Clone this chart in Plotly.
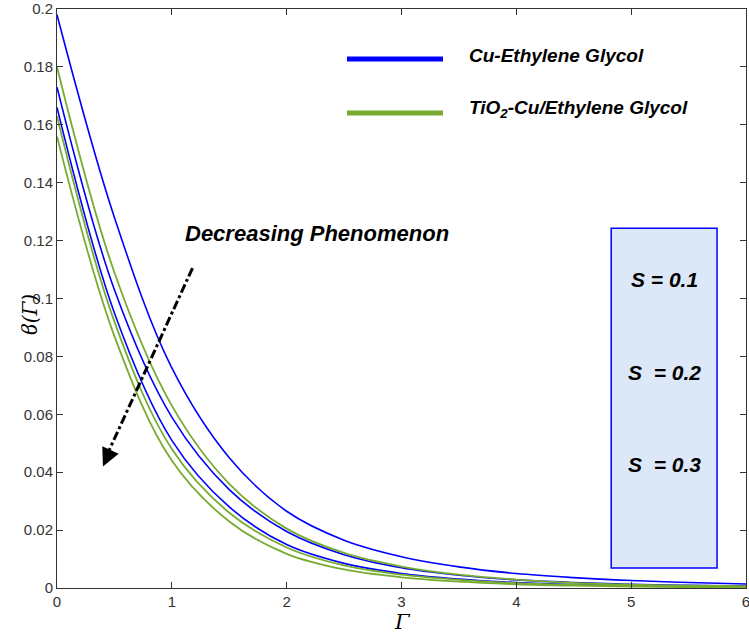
import plotly.graph_objects as go

x_vals = [0, 0.5, 1, 1.5, 2, 2.5, 3, 3.5, 4, 4.5, 5, 5.5, 6]

cu_eg_s1 = [0.198, 0.128, 0.076, 0.045, 0.0265, 0.0165, 0.0108, 0.0073, 0.0050, 0.0036, 0.0026, 0.0019, 0.0014]
cu_eg_s2 = [0.173, 0.103, 0.059, 0.034, 0.0195, 0.0115, 0.0070, 0.0044, 0.0028, 0.0019, 0.0013, 0.0009, 0.0007]
cu_eg_s3 = [0.166, 0.095, 0.051, 0.028, 0.0150, 0.0085, 0.0050, 0.0031, 0.0019, 0.0012, 0.0008, 0.0006, 0.0005]

tio2_s1 = [0.180, 0.109, 0.063, 0.036, 0.0205, 0.0121, 0.0074, 0.0046, 0.0029, 0.0018, 0.0012, 0.0008, 0.0006]
tio2_s2 = [0.163, 0.092, 0.048, 0.026, 0.0140, 0.0078, 0.0046, 0.0028, 0.0017, 0.0011, 0.0007, 0.0005, 0.0004]
tio2_s3 = [0.156, 0.087, 0.044, 0.023, 0.0118, 0.0064, 0.0037, 0.0022, 0.0013, 0.0008, 0.0005, 0.0003, 0.0002]

x_ticks = [0, 1, 2, 3, 4, 5, 6]
y_ticks = [0, 0.02, 0.04, 0.06, 0.08, 0.1, 0.12, 0.14, 0.16, 0.18, 0.2]
y_tick_text = ["0", "0.02", "0.04", "0.06", "0.08", "0.1", "0.12", "0.14", "0.16", "0.18", "0.2"]

legend_names = ["Cu-Ethylene Glycol", "TiO<sub>2</sub>-Cu/Ethylene Glycol"]
s_labels = ["S = 0.1", "S&nbsp; = 0.2", "S&nbsp; = 0.3"]
s_label_y = [0.1064, 0.0743, 0.0425]

BLUE = "#0000ff"
GREEN = "#77ac30"

fig = go.Figure()
for ys in [cu_eg_s1, cu_eg_s2, cu_eg_s3]:
    fig.add_trace(go.Scatter(x=x_vals, y=ys, mode="lines", line=dict(color=BLUE, width=1.6, shape="spline", smoothing=1.0), showlegend=False))
for ys in [tio2_s1, tio2_s2, tio2_s3]:
    fig.add_trace(go.Scatter(x=x_vals, y=ys, mode="lines", line=dict(color=GREEN, width=1.8, shape="spline", smoothing=1.0), showlegend=False))

# S box
fig.add_shape(type="rect", x0=4.826, x1=5.748, y0=0.0069, y1=0.1243, xref="x", yref="y",
              fillcolor="#dce8f8", line=dict(color=BLUE, width=1.5), layer="below")
font_s = dict(family="Arial, Liberation Sans, sans-serif", size=21, color="black")
for txt, yy in zip(s_labels, s_label_y):
    fig.add_annotation(x=5.287, y=yy, text="<b><i>" + txt + "</i></b>", showarrow=False, font=font_s, xref="x", yref="y")

# decreasing arrow
fig.add_trace(go.Scatter(x=[1.18, 0.43], y=[0.1105, 0.0455], mode="lines",
                         line=dict(color="black", width=3, dash="dashdot"), showlegend=False, hoverinfo="skip"))
fig.add_annotation(x=0.40, y=0.042, ax=0.47, ay=0.048, xref="x", yref="y", axref="x", ayref="y",
                   showarrow=True, arrowhead=2, arrowsize=1.2, arrowwidth=3, arrowcolor="black", text=" ")
fig.add_annotation(x=1.096, y=0.1226, text="<b><i>Decreasing Phenomenon</i></b>", showarrow=False,
                   xanchor="left", font=dict(family="Arial, Liberation Sans, sans-serif", size=22, color="black"),
                   xref="x", yref="y")

# custom legend
legend_line_y = [0.9136, 0.8204]
legend_text_y = [0.9205, 0.8273]
font_leg = dict(family="Arial, Liberation Sans, sans-serif", size=19, color="black")
for name, col, ly, ty in zip(legend_names, [BLUE, GREEN], legend_line_y, legend_text_y):
    fig.add_shape(type="line", xref="paper", yref="paper", x0=(347 - 57) / 689, x1=(443 - 57) / 689,
                  y0=ly, y1=ly, line=dict(color=col, width=5))
    fig.add_annotation(xref="paper", yref="paper", x=(467 - 57) / 689, y=ty, text="<b><i>" + name + "</i></b>",
                       showarrow=False, xanchor="left", yanchor="middle", font=font_leg)

# axis titles
fig.add_annotation(xref="paper", yref="paper", x=(402 - 57) / 689, y=(588 - 622) / 579, text="<i>Γ</i>",
                   xanchor="center", yanchor="middle",
                   showarrow=False, font=dict(family="DejaVu Serif, serif", size=21, color="black"))
fig.add_annotation(xref="paper", yref="paper", x=(30 - 57) / 689, y=(588 - 315) / 579, text="<i>ϐ(Γ)</i>",
                   xanchor="center", yanchor="middle",
                   textangle=-90, showarrow=False, font=dict(family="DejaVu Serif, serif", size=20, color="black"))

axis_common = dict(showline=True, linecolor="#333", linewidth=1, mirror="ticks", ticks="inside", ticklen=6,
                   tickcolor="#333", showgrid=False, zeroline=False, automargin=False, ticklabeloverflow="allow",
                   tickfont=dict(family="Liberation Sans Narrow, Arial Narrow, Arial, sans-serif", size=15, color="#333"))

fig.update_xaxes(range=[0, 6], tickvals=x_ticks, **axis_common)
fig.update_yaxes(range=[0, 0.2], tickvals=y_ticks, ticktext=y_tick_text, **axis_common)

fig.update_layout(width=749, height=636, margin=dict(l=57, r=3, t=9, b=48),
                  plot_bgcolor="white", paper_bgcolor="white")

fig.write_html("out.html", config={"displayModeBar": False},
               post_script="document.body.style.margin='0px';document.body.style.overflow='hidden';")
